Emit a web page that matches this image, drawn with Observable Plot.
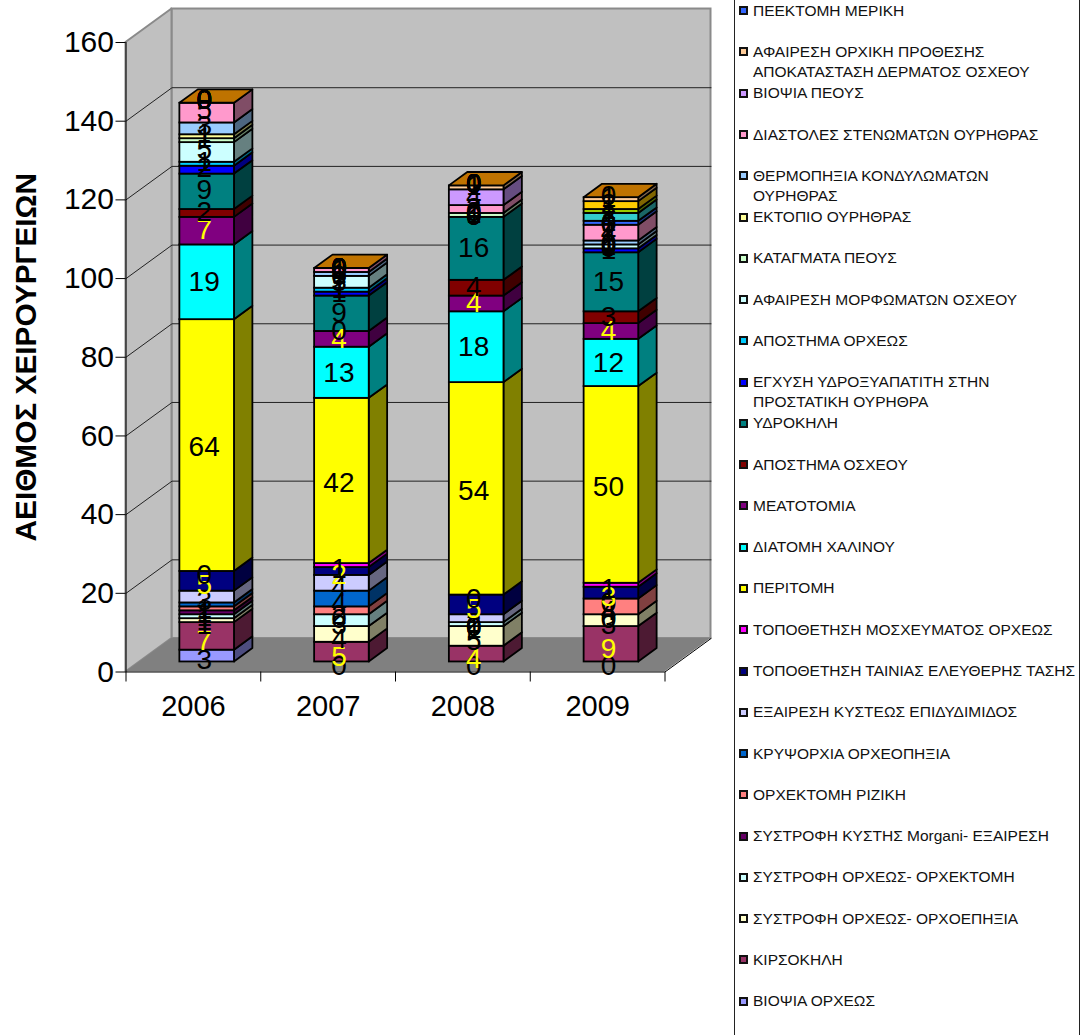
<!DOCTYPE html>
<html lang="el">
<head>
<meta charset="utf-8">
<title>ΑΕΙΘΜΟΣ ΧΕΙΡΟΥΡΓΕΙΩΝ</title>
<script src="https://cdn.jsdelivr.net/npm/d3@7"></script>
<script src="https://cdn.jsdelivr.net/npm/@observablehq/plot@0.6"></script>
<style>
  html, body { margin: 0; padding: 0; background: #fff; }
  #page { position: relative; width: 1090px; height: 1035px; overflow: hidden; font-family: "Liberation Sans", Arial, sans-serif; }
  #legend { position: absolute; left: 734px; top: -2px; width: 344px; height: 1040px; border: 1px solid #222; border-width: 0 1.5px; color: #111; }
  .entry { position: absolute; left: 18px; font-size: 15.5px; line-height: 20px; white-space: pre; }
  .swatch { position: absolute; left: 4px; width: 5px; height: 5px; border: 2px solid #111; }
</style>
</head>
<body>
<div id="page"></div>
<script>
const years = ["2006", "2007", "2008", "2009"];

// Procedures in stacking order, bottom of the column first.
const procedures = [
  "ΒΙΟΨΙΑ ΟΡΧΕΩΣ", "ΚΙΡΣΟΚΗΛΗ", "ΣΥΣΤΡΟΦΗ ΟΡΧΕΩΣ- ΟΡΧΟΕΠΗΞΙΑ", "ΣΥΣΤΡΟΦΗ ΟΡΧΕΩΣ- ΟΡΧΕΚΤΟΜΗ",
  "ΣΥΣΤΡΟΦΗ ΚΥΣΤΗΣ Morgani- ΕΞΑΙΡΕΣΗ", "ΟΡΧΕΚΤΟΜΗ ΡΙΖΙΚΗ", "ΚΡΥΨΟΡΧΙΑ ΟΡΧΕΟΠΗΞΙΑ",
  "ΕΞΑΙΡΕΣΗ ΚΥΣΤΕΩΣ ΕΠΙΔΥΔΙΜΙΔΟΣ", "ΤΟΠΟΘΕΤΗΣΗ ΤΑΙΝΙΑΣ ΕΛΕΥΘΕΡΗΣ ΤΑΣΗΣ", "ΤΟΠΟΘΕΤΗΣΗ ΜΟΣΧΕΥΜΑΤΟΣ ΟΡΧΕΩΣ",
  "ΠΕΡΙΤΟΜΗ", "ΔΙΑΤΟΜΗ ΧΑΛΙΝΟΥ", "ΜΕΑΤΟΤΟΜΙΑ", "ΑΠΟΣΤΗΜΑ ΟΣΧΕΟΥ", "ΥΔΡΟΚΗΛΗ",
  "ΕΓΧΥΣΗ ΥΔΡΟΞΥΑΠΑΤΙΤΗ ΣΤΗΝ\nΠΡΟΣΤΑΤΙΚΗ ΟΥΡΗΘΡΑ", "ΑΠΟΣΤΗΜΑ ΟΡΧΕΩΣ", "ΑΦΑΙΡΕΣΗ ΜΟΡΦΩΜΑΤΩΝ ΟΣΧΕΟΥ",
  "ΚΑΤΑΓΜΑΤΑ ΠΕΟΥΣ", "ΕΚΤΟΠΙΟ ΟΥΡΗΘΡΑΣ", "ΘΕΡΜΟΠΗΞΙΑ ΚΟΝΔΥΛΩΜΑΤΩΝ\nΟΥΡΗΘΡΑΣ",
  "ΔΙΑΣΤΟΛΕΣ ΣΤΕΝΩΜΑΤΩΝ ΟΥΡΗΘΡΑΣ", "ΒΙΟΨΙΑ ΠΕΟΥΣ",
  "ΑΦΑΙΡΕΣΗ ΟΡΧΙΚΗ ΠΡΟΘΕΣΗΣ\nΑΠΟΚΑΤΑΣΤΑΣΗ ΔΕΡΜΑΤΟΣ ΟΣΧΕΟΥ", "ΠΕΕΚΤΟΜΗ ΜΕΡΙΚΗ"
];

// One colour per stacked layer; the last five layers have no legend row.
const layerColors = [
  "#9999ff", "#993366", "#ffffcc", "#ccffff", "#660066", "#ff8080", "#0066cc", "#ccccff",
  "#000080", "#ff00ff", "#ffff00", "#00ffff", "#800080", "#800000", "#008080", "#0000ff",
  "#00ccff", "#ccffff", "#ccffcc", "#ffff99", "#99ccff", "#ff99cc", "#cc99ff", "#ffcc99",
  "#3366ff", "#33cccc", "#99cc00", "#ffcc00", "#ffcc99", "#ff9900"
];

// Yearly counts, one entry per layer.
const counts2006 = [3, 7, 1, 1, 1, 1, 1, 3, 5, 0, 64, 19, 7, 2, 9, 2, 1, 5, 1, 1, 3, 5, 0, 0, 0, 0, 0, 0, 0, 0];
const counts2007 = [0, 5, 4, 3, 0, 2, 4, 4, 2, 1, 42, 13, 4, 0, 9, 1, 1, 3, 0, 0, 1, 1, 0, 0, 0, 0, 0, 0, 0, 0];
const counts2008 = [0, 4, 5, 1, 0, 0, 0, 2, 5, 0, 54, 18, 4, 4, 16, 0, 0, 0, 1, 0, 0, 2, 4, 1, 0, 0, 0, 0, 0, 0];
const counts2009 = [0, 9, 3, 0, 0, 4, 0, 0, 3, 1, 50, 12, 4, 3, 15, 1, 0, 1, 0, 0, 1, 4, 0, 0, 1, 2, 1, 2, 1, 0];
const yearCounts = [counts2006, counts2007, counts2008, counts2009];

const yTicks = [0, 20, 40, 60, 80, 100, 120, 140, 160];
const darkLayers = ["#993366", "#000080", "#800080"]; // these carry yellow value labels

// Oblique projection: full depth of the chart box, in x-scale and y-scale units.
const boxDepthX = 0.3414, boxDepthY = 8.51;
const columnFront = 0.3, columnBack = 0.7, columnHalfWidth = 0.2026;
const labelStretch = 1.014, labelLift = 1.14;
const shade = (c, k) => {
  const {r, g, b} = d3.rgb(c);
  return d3.rgb(r * k, g * k, b * k).formatHex();
};

// Front, side and label geometry for each stacked segment.
const fronts = [], sides = [], labels = [], tops = [];
yearCounts.forEach((counts, yi) => {
  const left = yi + 0.5 - columnHalfWidth + columnFront * boxDepthX;
  const right = yi + 0.5 + columnHalfWidth + columnFront * boxDepthX;
  const lift = columnFront * boxDepthY;
  const dx = (columnBack - columnFront) * boxDepthX;
  const dy = (columnBack - columnFront) * boxDepthY;
  let total = 0;
  counts.forEach((v, li) => {
    const color = layerColors[li];
    const y0 = total, y1 = total + v;
    total = y1;
    labels.push({
      x: (left + right) / 2, y: labelLift + labelStretch * (y0 + y1) / 2, v,
      color: darkLayers.includes(color) ? "#ffff00" : "#000"
    });
    if (v === 0) return;
    fronts.push({x1: left, x2: right, y1: y0 + lift, y2: y1 + lift, color});
    const key = `${yi}-${li}`;
    const side = shade(color, 0.5);
    sides.push({key, color: side, x: right, y1: y0 + lift, y2: y1 + lift});
    sides.push({key, color: side, x: right + dx, y1: y0 + lift + dy, y2: y1 + lift + dy});
  });
  const topColor = shade(layerColors[layerColors.length - 1], 0.75);
  tops.push({key: yi, color: topColor, y: total + lift, x1: left, x2: right});
  tops.push({key: yi, color: topColor, y: total + lift + dy, x1: left + dx, x2: right + dx});
});

const gridLines = yTicks.slice(1, -1).flatMap(t => [
  {t, x: 0, y: t},
  {t, x: boxDepthX, y: t + boxDepthY},
  {t, x: 4 + boxDepthX, y: t + boxDepthY}
]);

const wallStroke = "#8a8a8a";
const faceStroke = 1.8;
const chart = Plot.plot({
  width: 1090,
  height: 1035,
  marginLeft: 125.5,
  marginRight: 425.5,
  marginTop: 42,
  marginBottom: 363.5,
  x: {domain: [0, 4]},
  y: {domain: [0, 160]},
  color: {type: "identity"},
  style: {fontFamily: "Liberation Sans", background: "#fff", color: "#000"},
  marks: [
    // Back wall, side wall and floor of the box
    Plot.rect([{}], {x1: () => boxDepthX, x2: () => 4 + boxDepthX, y1: () => boxDepthY, y2: () => 160 + boxDepthY, fill: "#c0c0c0", stroke: wallStroke, strokeWidth: 2}),
    Plot.areaY([{x: 0, a: 0, b: 160}, {x: boxDepthX, a: boxDepthY, b: 160 + boxDepthY}], {x: "x", y1: "a", y2: "b", fill: "#c0c0c0", stroke: wallStroke, strokeWidth: 2}),
    Plot.areaX([{y: 0, a: 0, b: 4}, {y: boxDepthY, a: boxDepthX, b: 4 + boxDepthX}], {y: "y", x1: "a", x2: "b", fill: "#808080"}),
    Plot.line([{x: 4, y: 0}, {x: 4 + boxDepthX, y: boxDepthY}], {x: "x", y: "y", stroke: "#000", strokeWidth: 1}),
    Plot.line(gridLines, {x: "x", y: "y", z: "t", stroke: "#222", strokeWidth: 1}),

    // Columns
    Plot.areaY(sides, {x: "x", y1: "y1", y2: "y2", z: "key", fill: "color", stroke: "#000", strokeWidth: faceStroke}),
    Plot.rect(fronts, {x1: "x1", x2: "x2", y1: "y1", y2: "y2", fill: "color", stroke: "#000", strokeWidth: faceStroke}),
    Plot.areaX(tops, {y: "y", x1: "x1", x2: "x2", z: "key", fill: "color", stroke: "#000", strokeWidth: faceStroke}),

    // Axes
    Plot.ruleX([0], {y1: () => 0, y2: () => 160, stroke: "#000"}),
    Plot.ruleY([0], {x1: () => 0, x2: () => 4, stroke: "#000"}),
    Plot.axisY({ticks: yTicks, tickSize: 10, tickPadding: 2, fontSize: 30, label: null, anchor: "left"}),
    Plot.axisX({ticks: [0, 1, 2, 3, 4], tickSize: 10, tickFormat: () => "", label: null, anchor: "bottom"}),
    Plot.axisX({ticks: [0.5, 1.5, 2.5, 3.5], tickSize: 0, tickPadding: 23, fontSize: 29, tickFormat: d => years[d - 0.5], label: null, anchor: "bottom"}),
    Plot.text(["ΑΕΙΘΜΟΣ ΧΕΙΡΟΥΡΓΕΙΩΝ"], {frameAnchor: "left", rotate: -90, textAnchor: "middle", dx: -100, fontSize: 29.8, fontWeight: "bold", fill: "#000"}),

    // Value labels
    Plot.text(labels, {x: "x", y: "y", text: "v", fill: "color", fontSize: 28, dx: -3, dy: -1})
  ]
});

const page = document.getElementById("page");
page.appendChild(chart);

// Legend column to the right of the chart, last layer first.
const legend = document.createElement("div");
legend.id = "legend";
procedures.forEach((name, i) => {
  const row = procedures.length - 1 - i;
  const mid = 11.7 + 41.27 * row;
  const swatch = document.createElement("div");
  swatch.className = "swatch";
  swatch.style.top = `${mid - 3.5}px`;
  swatch.style.background = layerColors[i];
  const entry = document.createElement("div");
  entry.className = "entry";
  entry.style.top = `${mid - 9}px`;
  entry.textContent = name;
  legend.append(swatch, entry);
});
page.appendChild(legend);
</script>
</body>
</html>
